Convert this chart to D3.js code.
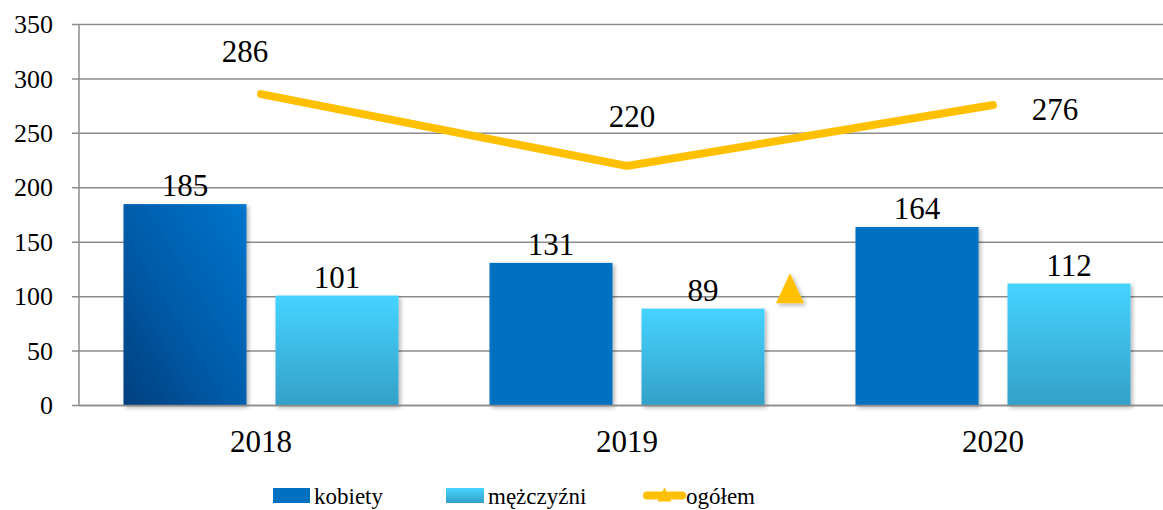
<!DOCTYPE html>
<html>
<head>
<meta charset="utf-8">
<script src="https://cdn.jsdelivr.net/npm/d3@7"></script>
<style>
  body { margin: 0; background: #fff; }
</style>
</head>
<body>
<div id="chart"></div>
<script>
// data
var years = ["2018", "2019", "2020"];
var kobiety = [185, 131, 164];
var mezczyzni = [101, 89, 112];
var ogolem = [286, 220, 276];
var yTicks = [0, 50, 100, 150, 200, 250, 300, 350];
var seriesNames = ["kobiety", "mężczyźni", "ogółem"];

var W = 1163, H = 510;
var FONT = "'Liberation Serif', 'DejaVu Serif', serif";

var svg = d3.select("#chart")
  .append("svg")
    .attr("width", W)
    .attr("height", H)
    .attr("font-family", FONT);

var defs = svg.append("defs");

// gradients
var gK = defs.append("linearGradient").attr("id", "gradK")
  .attr("x1", "0").attr("y1", "1").attr("x2", "1").attr("y2", "0");
gK.append("stop").attr("offset", "0%").attr("stop-color", "#003f7e");
gK.append("stop").attr("offset", "45%").attr("stop-color", "#005ba8");
gK.append("stop").attr("offset", "100%").attr("stop-color", "#0075cc");

var gM = defs.append("linearGradient").attr("id", "gradM")
  .attr("x1", "0").attr("y1", "0").attr("x2", "0").attr("y2", "1");
gM.append("stop").attr("offset", "0%").attr("stop-color", "#45d4ff");
gM.append("stop").attr("offset", "100%").attr("stop-color", "#34a0c8");

var shadow = defs.append("filter").attr("id", "shadow")
  .attr("x", "-20%").attr("y", "-20%").attr("width", "140%").attr("height", "140%");
shadow.append("feDropShadow")
  .attr("dx", 2).attr("dy", 2).attr("stdDeviation", 2)
  .attr("flood-color", "#000").attr("flood-opacity", 0.3);

// scales
var x = d3.scaleBand()
  .domain(years)
  .range([78, 1176])
  .padding(0);

var y = d3.scaleLinear()
  .domain([0, 350])
  .range([405.5, 24.5]);

var left = 79, right = W;
var barW = 123, gap = 14.5;

// gridlines
svg.append("g")
  .selectAll("line")
  .data(yTicks)
  .enter()
  .append("line")
    .attr("x1", left - 7)
    .attr("x2", right)
    .attr("y1", function(d) { return y(d); })
    .attr("y2", function(d) { return y(d); })
    .style("stroke", "#8c8c8c")
    .style("stroke-width", 1.5);

// y axis line
svg.append("line")
  .attr("x1", left).attr("x2", left)
  .attr("y1", y(350)).attr("y2", y(0))
  .style("stroke", "#8c8c8c")
  .style("stroke-width", 1.5);

// y tick labels
svg.append("g")
  .selectAll("text")
  .data(yTicks)
  .enter()
  .append("text")
    .attr("x", 53)
    .attr("y", function(d) { return y(d); })
    .attr("dy", "0.33em")
    .attr("text-anchor", "end")
    .style("font-family", FONT)
    .style("font-size", "26px")
    .text(function(d) { return d; });

// bars kobiety
svg.append("g")
  .selectAll("rect")
  .data(kobiety)
  .enter()
  .append("rect")
    .attr("x", function(d, i) { return x(years[i]) + x.bandwidth() / 2 - gap - barW; })
    .attr("y", function(d) { return y(d); })
    .attr("width", barW)
    .attr("height", function(d) { return y(0) - y(d); })
    .attr("filter", "url(#shadow)")
    .style("fill", function(d, i) { return i === 0 ? "url(#gradK)" : "#0070c0"; });

// bars mezczyzni
svg.append("g")
  .selectAll("rect")
  .data(mezczyzni)
  .enter()
  .append("rect")
    .attr("x", function(d, i) { return x(years[i]) + x.bandwidth() / 2 + gap; })
    .attr("y", function(d) { return y(d); })
    .attr("width", barW)
    .attr("height", function(d) { return y(0) - y(d); })
    .attr("filter", "url(#shadow)")
    .style("fill", "url(#gradM)");

// bottom axis line (drawn over bars)
svg.append("line")
  .attr("x1", left).attr("x2", right)
  .attr("y1", y(0)).attr("y2", y(0))
  .style("stroke", "#8c8c8c")
  .style("stroke-width", 1.5);

// bar labels
svg.append("g")
  .selectAll("text")
  .data(kobiety)
  .enter()
  .append("text")
    .attr("x", function(d, i) { return x(years[i]) + x.bandwidth() / 2 - gap - barW / 2; })
    .attr("y", function(d) { return y(d) - 8; })
    .attr("text-anchor", "middle")
    .style("font-family", FONT)
    .style("font-size", "31px")
    .text(function(d) { return d; });

svg.append("g")
  .selectAll("text")
  .data(mezczyzni)
  .enter()
  .append("text")
    .attr("x", function(d, i) { return x(years[i]) + x.bandwidth() / 2 + gap + barW / 2; })
    .attr("y", function(d) { return y(d) - 8; })
    .attr("text-anchor", "middle")
    .style("font-family", FONT)
    .style("font-size", "31px")
    .text(function(d) { return d; });

// ogolem line
var line = d3.line()
  .x(function(d, i) { return x(years[i]) + x.bandwidth() / 2; })
  .y(function(d) { return y(d); });

svg.append("path")
  .datum(ogolem)
  .attr("d", line)
  .attr("fill", "none")
  .attr("stroke", "#ffc000")
  .attr("stroke-width", 8)
  .attr("stroke-linecap", "round")
  .attr("stroke-linejoin", "miter");

// ogolem labels, offsets as Excel placed them
var lblOffset = [[-16, -32], [5, -39], [62, 15]];
svg.append("g")
  .selectAll("text")
  .data(ogolem)
  .enter()
  .append("text")
    .attr("x", function(d, i) { return x(years[i]) + x.bandwidth() / 2 + lblOffset[i][0]; })
    .attr("y", function(d, i) { return y(d) + lblOffset[i][1]; })
    .attr("text-anchor", "middle")
    .style("font-family", FONT)
    .style("font-size", "31px")
    .text(function(d) { return d; });

// stray marker of the line series
svg.append("path")
  .attr("d", "M0,-18L14,12L-14,12Z")
  .attr("transform", "translate(" + (x("2019") + x.bandwidth() / 2 + 163) + "," + y(105) + ")")
  .attr("filter", "url(#shadow)")
  .style("fill", "#ffc000");

// category labels
svg.append("g")
  .selectAll("text")
  .data(years)
  .enter()
  .append("text")
    .attr("x", function(d) { return x(d) + x.bandwidth() / 2; })
    .attr("y", 452)
    .attr("text-anchor", "middle")
    .style("font-family", FONT)
    .style("font-size", "31px")
    .text(function(d) { return d; });

// legend
var legend = svg.append("g");
legend.append("rect")
  .attr("x", 273).attr("y", 488).attr("width", 37).attr("height", 15)
  .style("fill", "#0070c0");
legend.append("text")
  .attr("x", 314).attr("y", 504)
  .style("font-family", FONT)
  .style("font-size", "23px")
  .text(seriesNames[0]);

legend.append("rect")
  .attr("x", 446).attr("y", 488).attr("width", 38).attr("height", 15)
  .style("fill", "url(#gradM)");
legend.append("text")
  .attr("x", 488).attr("y", 504)
  .style("font-family", FONT)
  .style("font-size", "23px")
  .text(seriesNames[1]);

legend.append("line")
  .attr("x1", 647).attr("x2", 682)
  .attr("y1", 495.5).attr("y2", 495.5)
  .style("stroke", "#ffc000")
  .style("stroke-width", 8)
  .style("stroke-linecap", "round");
legend.append("path")
  .attr("d", "M0,-8L7,6L-7,6Z")
  .attr("transform", "translate(664.5,495.5)")
  .style("fill", "#ffc000");
legend.append("text")
  .attr("x", 686).attr("y", 504)
  .style("font-family", FONT)
  .style("font-size", "23px")
  .text(seriesNames[2]);
</script>
</body>
</html>
